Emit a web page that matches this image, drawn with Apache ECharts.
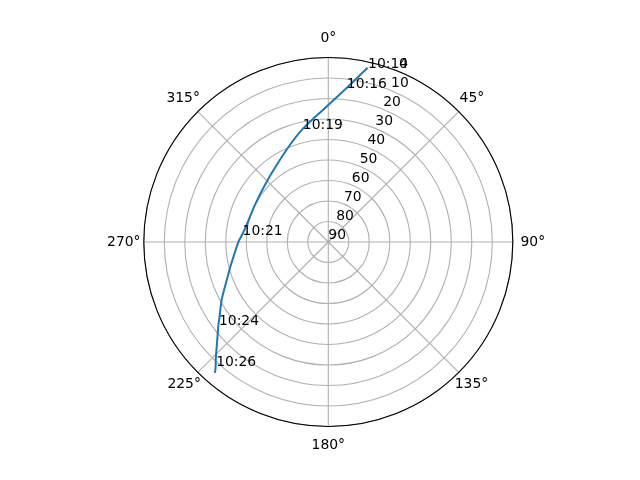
<!DOCTYPE html>
<html>
<head>
<meta charset="utf-8">
<script src="https://cdn.jsdelivr.net/npm/echarts@6/dist/echarts.min.js"></script>
<style>
  html, body { margin: 0; padding: 0; background: #fff; }
  #chart { width: 640px; height: 480px; }
</style>
</head>
<body>
<div id="chart"></div>
<script>
// track: time label, azimuth (deg), elevation (deg)
var times = ['10:14', '10:16', '', '10:19', '', '', '', '', '', '10:21', '', '', '', '', '', '10:24', '', '', '10:26', ''];
var azimuth = [12.7, 6.7, 358.5, 347.0, 338.4, 326.1, 312.0, 296.8, 281.9, 274.8, 269.9, 255.2, 249.6, 241.6, 234.6, 233.1, 228.7, 223.8, 222.2, 220.9];
var elevation = [2.9, 14.5, 24.7, 33.6, 39.1, 44.8, 48.4, 49.9, 49.3, 47.8, 46.1, 40.4, 37.2, 30.9, 24.7, 23.0, 17.9, 10.7, 8.2, 5.6];

var angleTicks = [0, 45, 90, 135, 180, 225, 270, 315];
var radiusTicks = [0, 10, 20, 30, 40, 50, 60, 70, 80, 90];

var font = 'DejaVu Sans';
var fs = 13.9;

var track = [];
var labelled = [];
for (var i = 0; i < times.length; i++) {
    track.push([elevation[i], azimuth[i]]);
    if (times[i]) labelled.push([elevation[i], azimuth[i], times[i]]);
}

// angle labels: echarts aligns them by side, so pad each one to centre it
// on a ring ~20px outside the frame like matplotlib does
var pads = {
    0:   [0, 0, 18, 0],
    45:  [0, 0, 10.4, 5.1],
    90:  [0, 0, 0, 13.7],
    135: [9.2, 0, 0, 0.2],
    180: [18, 0, 0, 0],
    225: [9.2, 1.2, 0, 0],
    270: [0, 9.3, 0, 0],
    315: [0, 2.2, 10.4, 0]
};
var rich = {};
angleTicks.forEach(function (a) {
    rich['a' + a] = { padding: pads[a], color: '#000', fontFamily: font, fontSize: fs };
});

var chart = echarts.init(document.getElementById('chart'));

var option = {
    backgroundColor: '#fff',
    animation: false,
    polar: [
        { center: [328.3, 242], radius: 184.5 },
        { center: [328.3, 242], radius: 184.5 }
    ],
    angleAxis: [
        {
            polarIndex: 0,
            type: 'value',
            min: 0, max: 360, interval: 45,
            startAngle: 90, clockwise: true,
            axisLine: { lineStyle: { color: '#000', width: 1.1 } },
            axisTick: { show: false },
            axisLabel: {
                margin: -6,
                color: '#000', fontFamily: font, fontSize: fs,
                rich: rich,
                formatter: function (v) {
                    return angleTicks.indexOf(v) >= 0 ? '{a' + v + '|' + v + '°}' : '';
                }
            },
            splitLine: { show: true, lineStyle: { color: '#b0b0b0', width: 1.1 } }
        },
        {
            polarIndex: 1,
            type: 'value',
            min: 0, max: 360,
            startAngle: 67.5, clockwise: true,
            show: false
        }
    ],
    radiusAxis: [
        {
            polarIndex: 0,
            type: 'value',
            min: 0, max: 90, interval: 10,
            inverse: true,
            axisLine: { show: false },
            axisTick: { show: false },
            axisLabel: { show: false },
            splitLine: { show: true, lineStyle: { color: '#b0b0b0', width: 1.1 } }
        },
        {
            polarIndex: 1,
            type: 'value',
            min: 0, max: 90, interval: 10,
            inverse: true,
            axisLine: { show: false },
            axisTick: { show: false },
            splitLine: { show: false },
            axisLabel: {
                margin: 0,
                align: 'left',
                verticalAlign: 'bottom',
                color: '#000', fontFamily: font, fontSize: fs,
                formatter: function (v) {
                    return radiusTicks.indexOf(v) >= 0 ? String(v) : '';
                }
            }
        }
    ],
    series: [
        {
            type: 'line',
            coordinateSystem: 'polar',
            polarIndex: 0,
            data: track,
            showSymbol: false,
            smooth: 0.3,
            lineStyle: { color: '#1f77b4', width: 2 },
            z: 5
        },
        {
            type: 'scatter',
            coordinateSystem: 'polar',
            polarIndex: 0,
            data: labelled,
            symbolSize: 1,
            itemStyle: { color: '#000', opacity: 0 },
            label: {
                show: true,
                position: [0, 0],
                align: 'left',
                verticalAlign: 'bottom',
                offset: [1, 4],
                opacity: 1,
                textBorderWidth: 0,
                textBorderColor: 'transparent',
                color: '#000', fontFamily: font, fontSize: fs,
                formatter: function (p) { return p.data[2]; }
            },
            z: 6
        }
    ]
};

chart.setOption(option);
</script>
</body>
</html>
